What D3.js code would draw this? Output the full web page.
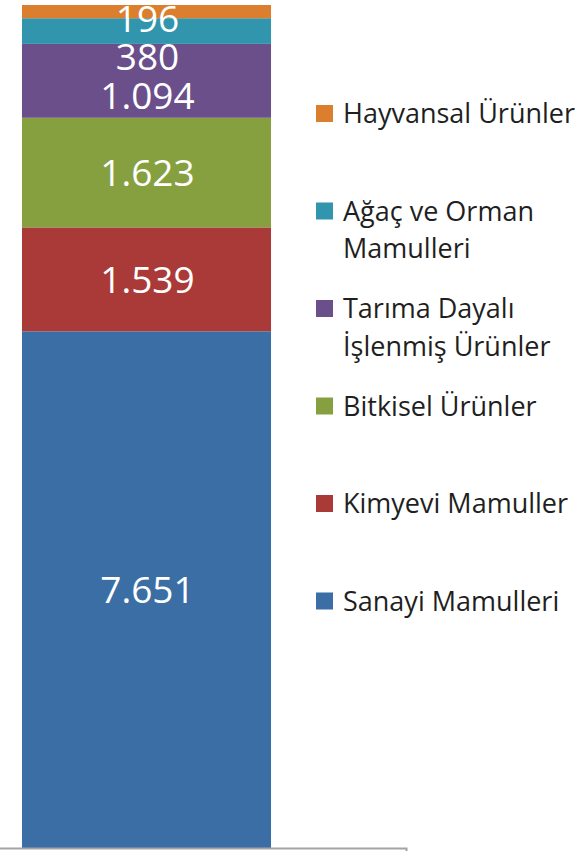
<!DOCTYPE html>
<html>
<head>
<meta charset="utf-8">
<script src="https://cdn.jsdelivr.net/npm/d3@7"></script>
<style>
  html, body { margin: 0; padding: 0; background: #fff; }
  svg { display: block; font-family: "Open Sans", sans-serif; }
</style>
</head>
<body>
<div id="chart"></div>
<script>
const width = 588;
const height = 851;

// Données (du bas vers le haut de la pile)
const categories = ["Sanayi Mamulleri", "Kimyevi Mamuller", "Bitkisel Ürünler",
  "Tarıma Dayalı İşlenmiş Ürünler", "Ağaç ve Orman Mamulleri", "Hayvansal Ürünler"];
const values = [7651, 1539, 1623, 1094, 380, 196];
const valueLabels = ["7.651", "1.539", "1.623", "1.094", "380", "196"];
const colors = ["#3a6ea5", "#aa3a37", "#86a03f", "#6a4f8a", "#3195ad", "#db7f2e"];
// Lignes de la légende (de haut en bas)
const legendLines = [
  ["Hayvansal Ürünler"],
  ["Ağaç ve Orman", "Mamulleri"],
  ["Tarıma Dayalı", "İşlenmiş Ürünler"],
  ["Bitkisel Ürünler"],
  ["Kimyevi Mamuller"],
  ["Sanayi Mamulleri"]
];

const total = d3.sum(values);

const x = d3.scaleBand().domain(["2015"]).range([-113, 406])
  .paddingInner(0).paddingOuter(0.542);
const y = d3.scaleLinear().domain([0, total]).range([848, 5]);

const svg = d3.select("#chart").append("svg")
  .attr("width", width)
  .attr("height", height)
  .attr("viewBox", `0 0 ${width} ${height}`);

// Pile
let acc = 0;
const segs = values.map((v, i) => {
  const s = { i, y0: acc, y1: acc + v };
  acc += v;
  return s;
});

svg.append("g").selectAll("rect")
  .data(segs)
  .join("rect")
  .attr("x", x("2015"))
  .attr("width", x.bandwidth())
  .attr("y", d => y(d.y1))
  .attr("height", d => y(d.y0) - y(d.y1))
  .attr("fill", d => colors[d.i]);

// Axe
const axis = svg.append("g")
  .attr("transform", `translate(0,${y(0)})`)
  .call(d3.axisBottom(x).tickSizeInner(0).tickSizeOuter(3).tickFormat(""));
axis.select(".domain").attr("stroke", "#a3a3a6").attr("stroke-width", 2);

// Étiquettes : position au centre puis écartement vers le bas depuis le haut
const labelGap = 38.5;
const topSegs = segs.slice().reverse();
let prev = -Infinity;
topSegs.forEach(d => {
  const c = (y(d.y0) + y(d.y1)) / 2;
  d.ly = Math.max(c, 18.5, prev + labelGap);
  prev = d.ly;
});

svg.append("g").selectAll("text")
  .data(topSegs)
  .join("text")
  .attr("x", x("2015") + x.bandwidth() / 2 + 1)
  .attr("y", d => d.ly)
  .attr("dy", "0.36em")
  .attr("text-anchor", "middle")
  .attr("fill", "#fff")
  .attr("font-size", 37)
  .text(d => valueLabels[d.i]);

// Légende
const legend = svg.append("g");
const item = legend.selectAll("g")
  .data(legendLines)
  .join("g")
  .attr("transform", (d, i) => `translate(316,${113.5 + i * 97.5})`);

item.append("rect")
  .attr("y", -8.5)
  .attr("width", 17)
  .attr("height", 17)
  .attr("fill", (d, i) => colors[colors.length - 1 - i]);

item.append("text")
  .attr("x", 27)
  .attr("fill", "#1f1f1f")
  .attr("font-size", 27)
  .selectAll("tspan")
  .data(d => d)
  .join("tspan")
  .attr("x", 27)
  .attr("y", (d, j) => j * 37.5)
  .attr("dy", "0.36em")
  .text(d => d);
</script>
</body>
</html>
